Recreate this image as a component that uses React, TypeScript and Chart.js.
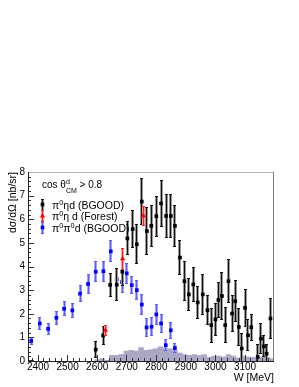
import React, { useEffect, useRef } from 'react';
import { Chart, registerables } from 'chart.js';

Chart.register(...registerables);

const FONT = "'Liberation Sans', Arial, Helvetica, sans-serif";

// pi0 eta d (BGOOD)
const etaW = [2595, 2620, 2644, 2666, 2685, 2702, 2720, 2734, 2751, 2768, 2783, 2800, 2816, 2833, 2849, 2863, 2880, 2895, 2910, 2925, 2940, 2957, 2973, 2986, 3000, 3010, 3022, 3033, 3044, 3056, 3067, 3079, 3089, 3100, 3110, 3121, 3143, 3154, 3164, 3173, 3186];
const etaXs = [0.48, 1.08, 3.22, 3.23, 3.78, 5.19, 5.58, 4.94, 6.75, 5.5, 5.72, 6.13, 6.67, 6.14, 6.14, 5.72, 4.38, 3.38, 2.82, 3.24, 2.48, 2.82, 2.15, 1.52, 1.76, 2.58, 2.75, 1.52, 3.38, 2.01, 2.53, 1.44, 0.53, 2.25, 1.09, 1.43, 0.17, 0.95, 0.62, 0.31, 1.8];
const etaErr = [0.35, 0.39, 0.5, 0.7, 0.6, 0.72, 0.8, 0.85, 1.0, 1.0, 0.88, 0.87, 0.99, 0.92, 0.92, 0.88, 0.75, 0.84, 0.7, 0.75, 0.69, 0.86, 0.64, 0.74, 0.71, 0.78, 1.02, 0.76, 0.93, 0.78, 0.88, 0.81, 0.67, 0.81, 0.67, 0.57, 0.53, 0.67, 0.46, 0.4, 0.88];

// pi0 eta d (Forest)
const forestW = [2628, 2686, 2756];
const forestXs = [1.3, 4.33, 6.15];
const forestErr = [0.23, 0.46, 0.42];

// pi0 pi0 d (BGOOD)
const pipiW = [2377, 2406, 2434, 2462, 2488, 2516, 2542, 2569, 2595, 2621, 2646, 2666, 2684, 2700, 2717, 2734, 2751, 2767, 2784, 2800, 2816, 2832, 2849, 2863];
const pipiXs = [0.85, 1.59, 1.36, 1.83, 2.21, 2.14, 2.85, 3.26, 3.78, 3.8, 4.64, 3.46, 3.34, 3.71, 3.21, 3.0, 2.39, 1.42, 1.45, 1.97, 1.59, 0.67, 1.3, 0.55];
const pipiErr = [0.17, 0.26, 0.26, 0.3, 0.32, 0.32, 0.37, 0.41, 0.44, 0.45, 0.47, 0.45, 0.45, 0.45, 0.39, 0.42, 0.46, 0.42, 0.4, 0.46, 0.42, 0.25, 0.37, 0.21];

// background histogram
const histW = [2600.2, 2616.7, 2633.1, 2649.5, 2666.0, 2682.4, 2698.9, 2715.3, 2731.7, 2748.2, 2764.6, 2781.0, 2797.5, 2813.9, 2830.4, 2846.8, 2863.2, 2879.7, 2896.1, 2912.6, 2929.0, 2945.4, 2961.9, 2978.3, 2994.7, 3011.2, 3027.6, 3044.1, 3060.5, 3076.9, 3093.4, 3109.8, 3126.3, 3142.7, 3159.1, 3175.6, 3192.0];
const histXs = [0.06, 0.1, 0.03, 0.24, 0.24, 0.28, 0.42, 0.45, 0.42, 0.57, 0.45, 0.48, 0.52, 0.6, 0.55, 0.52, 0.45, 0.34, 0.27, 0.24, 0.27, 0.23, 0.27, 0.16, 0.2, 0.21, 0.17, 0.27, 0.21, 0.13, 0.2, 0.17, 0.16, 0.13, 0.16, 0.14, 0.1];

const xTickValues = [2400, 2500, 2600, 2700, 2800, 2900, 3000, 3100];
const yTickValues = [0, 1, 2, 3, 4, 5, 6, 7, 8];

const seriesLabels = ['π^0ηd (BGOOD)', 'π^0η d (Forest)', 'π^0π^0d (BGOOD)'];
const cutLabel = 'cos θ^d_{CM} > 0.8';
const xTitle = 'W [MeV]';
const yTitle = 'dσ/dΩ [nb/sr]';

type Part = { t: string; k: 'n' | 'sup' | 'sub' };

function parseRich(s: string): Part[] {
  const parts: Part[] = [];
  let i = 0;
  let buf = '';
  const readGroup = () => {
    if (s[i] === '{') {
      const j = s.indexOf('}', i);
      const g = s.slice(i + 1, j);
      i = j + 1;
      return g;
    }
    return s[i++];
  };
  while (i < s.length) {
    const c = s[i];
    if (c === '^' || c === '_') {
      if (buf) { parts.push({ t: buf, k: 'n' }); buf = ''; }
      i++;
      const g = readGroup();
      parts.push({ t: g, k: c === '^' ? 'sup' : 'sub' });
    } else {
      buf += c;
      i++;
    }
  }
  if (buf) parts.push({ t: buf, k: 'n' });
  return parts;
}

function drawRich(ctx: CanvasRenderingContext2D, s: string, x: number, baseline: number, size: number, supDy: number, subDy: number) {
  const parts = parseRich(s);
  let cx = x;
  let pending = -1;
  ctx.textBaseline = 'alphabetic';
  ctx.textAlign = 'left';
  for (let idx = 0; idx < parts.length; idx++) {
    const p = parts[idx];
    const sz = p.k === 'n' ? size : size * 0.7;
    ctx.font = `${sz}px ${FONT}`;
    const dy = p.k === 'sup' ? supDy : p.k === 'sub' ? subDy : 0;
    ctx.fillText(p.t, cx, baseline + dy);
    const w = ctx.measureText(p.t).width;
    const next = parts[idx + 1];
    if (p.k === 'sup' && next && next.k === 'sub') { pending = w; continue; }
    if (pending >= 0) { cx += Math.max(w, pending); pending = -1; } else cx += w;
  }
}

function drawBar(ctx: CanvasRenderingContext2D, px: number, yt: number, yb: number, band: string, line: string) {
  const x = Math.floor(px);
  const t = Math.round(yt);
  const b = Math.round(yb);
  ctx.fillStyle = band;
  ctx.fillRect(x - 1, t, 3, b - t);
  ctx.fillStyle = line;
  ctx.fillRect(x, t, 1, b - t);
  ctx.fillRect(x - 1, t, 3, 1);
  ctx.fillRect(x - 1, b - 1, 3, 1);
}

function drawMarker(ctx: CanvasRenderingContext2D, style: string, x: number, y: number, color: string) {
  ctx.fillStyle = color;
  if (style === 'triangle') {
    ctx.beginPath();
    ctx.moveTo(x, y - 3);
    ctx.lineTo(x + 2.6, y + 1.5);
    ctx.lineTo(x - 2.6, y + 1.5);
    ctx.closePath();
    ctx.fill();
  } else {
    ctx.fillRect(x - 1.8, y - 1.8, 3.6, 3.6);
  }
}

const STYLES = [
  { color: '#000000', band: '#9a9a9a', line: '#111111', point: 'rect', radius: 2.6 },
  { color: '#ff0000', band: '#ff9c9c', line: '#ff2020', point: 'triangle', radius: 3 },
  { color: '#0000ff', band: '#a4a4ff', line: '#5c5cff', point: 'rect', radius: 2.6 },
];

export default function App() {
  const ref = useRef<HTMLCanvasElement>(null);

  useEffect(() => {
    const canvas = ref.current;
    if (!canvas) return;

    const errorBarPlugin = {
      id: 'errorBars',
      beforeDatasetDraw(chart: any, args: any) {
        const ds = chart.data.datasets[args.index];
        if (!ds.errors) return;
        const { ctx, chartArea: a } = chart;
        const xs = chart.scales.x;
        const ys = chart.scales.y;
        ctx.save();
        ctx.beginPath();
        ctx.rect(a.left, a.top, a.right - a.left, a.bottom - a.top);
        ctx.clip();
        ds.data.forEach((p: any, i: number) => {
          const e = ds.errors[i];
          drawBar(ctx, xs.getPixelForValue(p.x), ys.getPixelForValue(p.y + e), ys.getPixelForValue(p.y - e), ds.errBand, ds.errLine);
        });
        ctx.restore();
      },
    };

    const framePlugin = {
      id: 'frame',
      afterDatasetsDraw(chart: any) {
        const { ctx, chartArea: a } = chart;
        const xs = chart.scales.x;
        const ys = chart.scales.y;
        ctx.save();
        ctx.fillStyle = '#333';
        for (let i = 0; i <= 40; i++) {
          const v = i / 5;
          const y = Math.round(ys.getPixelForValue(v));
          const major = i % 5 === 0;
          ctx.fillRect(a.left, Math.min(y, a.bottom - 1), major ? 6 : 3, 1);
        }
        for (let v = 2380; v <= 3190; v += 20) {
          const x = Math.floor(xs.getPixelForValue(v));
          const major = v % 100 === 0;
          ctx.fillRect(x, a.bottom - (major ? 6 : 3), 1, major ? 6 : 3);
        }
        // frame
        ctx.fillStyle = '#b5b5b5';
        ctx.fillRect(a.left, a.top, a.right - a.left, 1);
        ctx.fillStyle = '#7a7a7a';
        ctx.fillRect(a.right - 1, a.top, 1, a.bottom - a.top);
        ctx.fillStyle = '#222';
        ctx.fillRect(a.left, a.top, 1, a.bottom - a.top + 1);
        ctx.fillRect(a.left, a.bottom, a.right - a.left, 1);
        ctx.restore();
      },
      afterDraw(chart: any) {
        const { ctx, chartArea: a } = chart;
        ctx.save();
        ctx.fillStyle = '#000';
        drawRich(ctx, cutLabel, a.left + 14, a.top + 15.5, 10, -3.4, 5);
        const rows = [a.top + 36.5, a.top + 48, a.top + 59.5];
        seriesLabels.forEach((lab, i) => {
          const st = STYLES[i];
          const base = rows[i];
          const cy = base - 4;
          const mx = a.left + 14;
          drawBar(ctx, mx, cy - 6, cy + 6, st.band, st.line);
          drawMarker(ctx, st.point, mx + 0.5, cy, st.color);
          ctx.fillStyle = '#000';
          drawRich(ctx, lab, a.left + 24, base, 10.5, -4, 3);
        });
        ctx.restore();
      },
    };

    const mk = (w: number[], v: number[]) => w.map((x, i) => ({ x, y: v[i] }));

    const chart = new Chart(canvas, {
      type: 'scatter',
      data: {
        datasets: [
          {
            type: 'scatter',
            label: seriesLabels[0],
            data: mk(etaW, etaXs),
            errors: etaErr,
            errBand: STYLES[0].band,
            errLine: STYLES[0].line,
            pointStyle: 'rect',
            pointRadius: STYLES[0].radius,
            pointBorderWidth: 0,
            backgroundColor: STYLES[0].color,
            borderColor: STYLES[0].color,
            order: 1,
          } as any,
          {
            type: 'scatter',
            label: seriesLabels[1],
            data: mk(forestW, forestXs),
            errors: forestErr,
            errBand: STYLES[1].band,
            errLine: STYLES[1].line,
            pointStyle: 'triangle',
            pointRadius: STYLES[1].radius,
            pointBorderWidth: 0,
            backgroundColor: STYLES[1].color,
            borderColor: STYLES[1].color,
            order: 0,
          } as any,
          {
            type: 'scatter',
            label: seriesLabels[2],
            data: mk(pipiW, pipiXs),
            errors: pipiErr,
            errBand: STYLES[2].band,
            errLine: STYLES[2].line,
            pointStyle: 'rect',
            pointRadius: STYLES[2].radius,
            pointBorderWidth: 0,
            backgroundColor: STYLES[2].color,
            borderColor: STYLES[2].color,
            order: 2,
          } as any,
          {
            type: 'bar',
            label: 'background',
            data: mk(histW, histXs),
            backgroundColor: '#aba8c6',
            borderWidth: 0,
            barPercentage: 1,
            categoryPercentage: 1,
            order: 10,
          } as any,
        ],
      },
      options: {
        responsive: false,
        maintainAspectRatio: false,
        devicePixelRatio: 1,
        animation: false,
        layout: { padding: { left: 0, right: 25, top: 172, bottom: 0 } },
        plugins: { legend: { display: false }, tooltip: { enabled: false } },
        scales: {
          x: {
            type: 'linear',
            min: 2366,
            max: 3198,
            offset: false,
            afterFit: (s: any) => { s.height = 26; },
            afterBuildTicks: (s: any) => { s.ticks = xTickValues.map((v) => ({ value: v })); },
            grid: { display: false, drawTicks: false },
            border: { display: false },
            ticks: {
              padding: 0,
              maxRotation: 0,
              autoSkip: false,
              color: '#000',
              font: { family: FONT, size: 10 },
              callback: (v: any) => String(v),
            },
            title: {
              display: true,
              text: xTitle,
              align: 'end',
              color: '#000',
              font: { family: FONT, size: 10.5 },
              padding: { top: 0, bottom: 3 },
            },
          },
          y: {
            type: 'linear',
            min: 0,
            max: 8,
            afterFit: (s: any) => { s.width = 28; },
            afterBuildTicks: (s: any) => { s.ticks = yTickValues.map((v) => ({ value: v })); },
            grid: { display: false, drawTicks: false },
            border: { display: false },
            ticks: {
              padding: 3,
              color: '#000',
              font: { family: FONT, size: 10 },
              callback: (v: any) => String(v),
            },
            title: {
              display: true,
              text: yTitle,
              align: 'end',
              color: '#000',
              font: { family: FONT, size: 10.5 },
              padding: { top: 7, bottom: 0 },
            },
          },
        },
      } as any,
      plugins: [errorBarPlugin, framePlugin],
    });

    return () => chart.destroy();
  }, []);

  return (
    <div style={{ position: 'fixed', left: 0, top: 0, width: 299, height: 387, background: '#fff' }}>
      <canvas ref={ref} width={299} height={387} style={{ width: 299, height: 387, display: 'block' }} />
    </div>
  );
}
